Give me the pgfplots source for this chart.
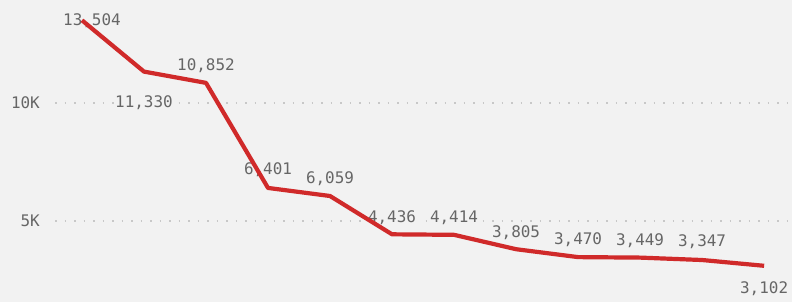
\documentclass[border=0pt]{standalone}
\usepackage{pgfplots}
\pgfplotsset{compat=1.18}
\usepackage{pgfplotstable}
\usepackage{fontspec}
\setmainfont{Liberation Sans}
\setmonofont{DejaVu Sans Mono}
\definecolor{bg}{HTML}{F2F2F2}
\definecolor{linered}{HTML}{D02A2A}
\definecolor{lbl}{HTML}{666666}
\definecolor{gridc}{HTML}{C8C8C8}
\pgfplotstableread{
x y dx dy
0 13504 10 0
1 11330 0 -31
2 10852 0 17
3 6401 0 18
4 6059 0 17
5 4436 0 17
6 4414 0 17
7 3805 0 17
8 3470 0 17
9 3449 0 17
10 3347 0 18
11 3102 0 -23
}\datatable
\pgfplotsset{common/.style={
  at={(55bp,0bp)}, anchor=south west,
  scale only axis, width=737bp, height=302bp,
  xmin=-0.435, xmax=11.45, ymin=1568, ymax=14364,
  clip=false}}
\begin{document}
\begin{tikzpicture}[x=1bp,y=1bp]
\fill[bg] (0,0) rectangle (792,302);
\path[use as bounding box] (0,0) rectangle (792,302);
\begin{axis}[
  common,
  axis line style={draw=none},
  major tick length=0pt,
  xtick=\empty,
  ytick={5000,10000}, yticklabels={5K,10K},
  yticklabel style={font=\ttfamily\fontsize{16}{16}\selectfont, text=lbl, anchor=east, inner sep=0pt, xshift=-15bp},
  ymajorgrids,
  grid style={gridc, line width=1.5bp, dash pattern=on 1.5bp off 8bp},
]
\addplot[draw=none, mark=none,
  point meta=y,
  nodes near coords={\pgfmathprintnumber[fixed, precision=0, 1000 sep={,}, assume math mode=true]{\pgfplotspointmeta}},
  visualization depends on={\thisrow{dx} \as \ldx},
  visualization depends on={\thisrow{dy} \as \ldy},
  every node near coord/.append style={anchor=center, xshift=\ldx bp, yshift=\ldy bp,
    font=\ttfamily\fontsize{16}{16}\selectfont, text=lbl, inner sep=1.5bp, fill=bg}]
  table[x=x, y=y] {\datatable};
\end{axis}
\begin{axis}[common, hide axis]
\addplot[linered, line width=4.2bp, line join=round, mark=none]
  table[x=x, y=y] {\datatable};
\end{axis}
\end{tikzpicture}
\end{document}
